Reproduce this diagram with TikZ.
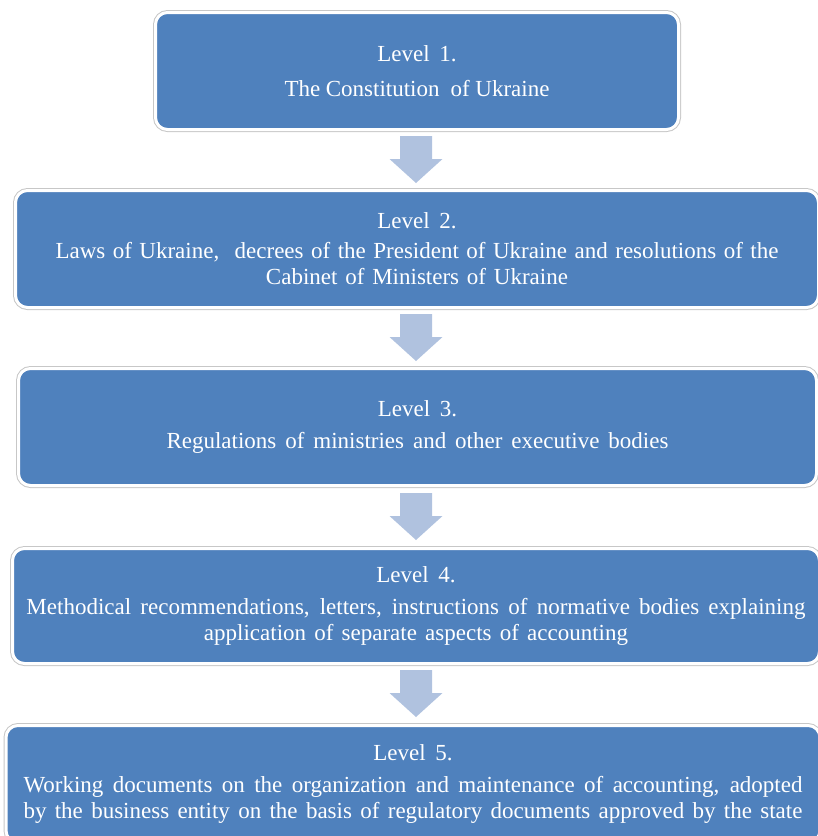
\documentclass[tikz,border=0pt]{standalone}
\usepackage{fontspec}
\setmainfont{Liberation Serif}
\usetikzlibrary{calc}
\definecolor{boxblue}{HTML}{4F81BD}
\definecolor{arrowblue}{HTML}{B0C2DF}
\tikzset{
  lvl/.style={rectangle, rounded corners=12pt, fill=boxblue, draw=white, line width=3pt,
    preaction={draw=black!22, line width=5pt}, inner sep=0pt, text=white, align=center,
    font=\fontsize{23}{26}\selectfont},
  downarrow/.style={fill=arrowblue, draw=none}
}
\newcommand{\fitline}[2]{\makebox[#1pt][s]{#2}}
\begin{document}
\begin{tikzpicture}[x=1pt,y=-1pt]
\useasboundingbox (0,0) rectangle (818,836);
\clip (0,0) rectangle (818,836);
\node[lvl, minimum width=523pt, minimum height=117pt] (b1) at (417,71)
  {Level \,1.\\[9pt]\fitline{265}{The Constitution \ of Ukraine}};
\node[lvl, minimum width=803pt, minimum height=117pt] (b2) at (417,249)
  {Level \,2.\\[4pt]\fitline{723}{Laws of Ukraine, \ decrees of the President of Ukraine and resolutions of the}\\\fitline{302}{Cabinet of Ministers of Ukraine}};
\node[lvl, minimum width=798pt, minimum height=117pt] (b3) at (417.5,427)
  {Level \,3.\\[6pt]\fitline{502}{Regulations of ministries and other executive bodies}};
\node[lvl, minimum width=807pt, minimum height=115pt] (b4) at (416,606)
  {Level \,4.\\[6pt]\fitline{779}{Methodical recommendations, letters, instructions of normative bodies explaining}\\\fitline{424}{application of separate aspects of accounting}};
\node[lvl, minimum width=814pt, minimum height=117pt] (b5) at (413,784)
  {Level \,5.\\[6pt]\fitline{779}{Working documents on the organization and maintenance of accounting, adopted}\\\fitline{779}{by the business entity on the basis of regulatory documents approved by the state}};
\foreach \t/\n in {136/a1,314/a2,493/a3,670/a4}{
  \coordinate (\n) at (416,\t);
  \fill[downarrow] ($(\n)+(-16,0)$) -- ($(\n)+(16,0)$) -- ($(\n)+(16,23)$) -- ($(\n)+(26.5,23)$)
    -- ($(\n)+(0,47)$) -- ($(\n)+(-26.5,23)$) -- ($(\n)+(-16,23)$) -- cycle;
}
\end{tikzpicture}
\end{document}
